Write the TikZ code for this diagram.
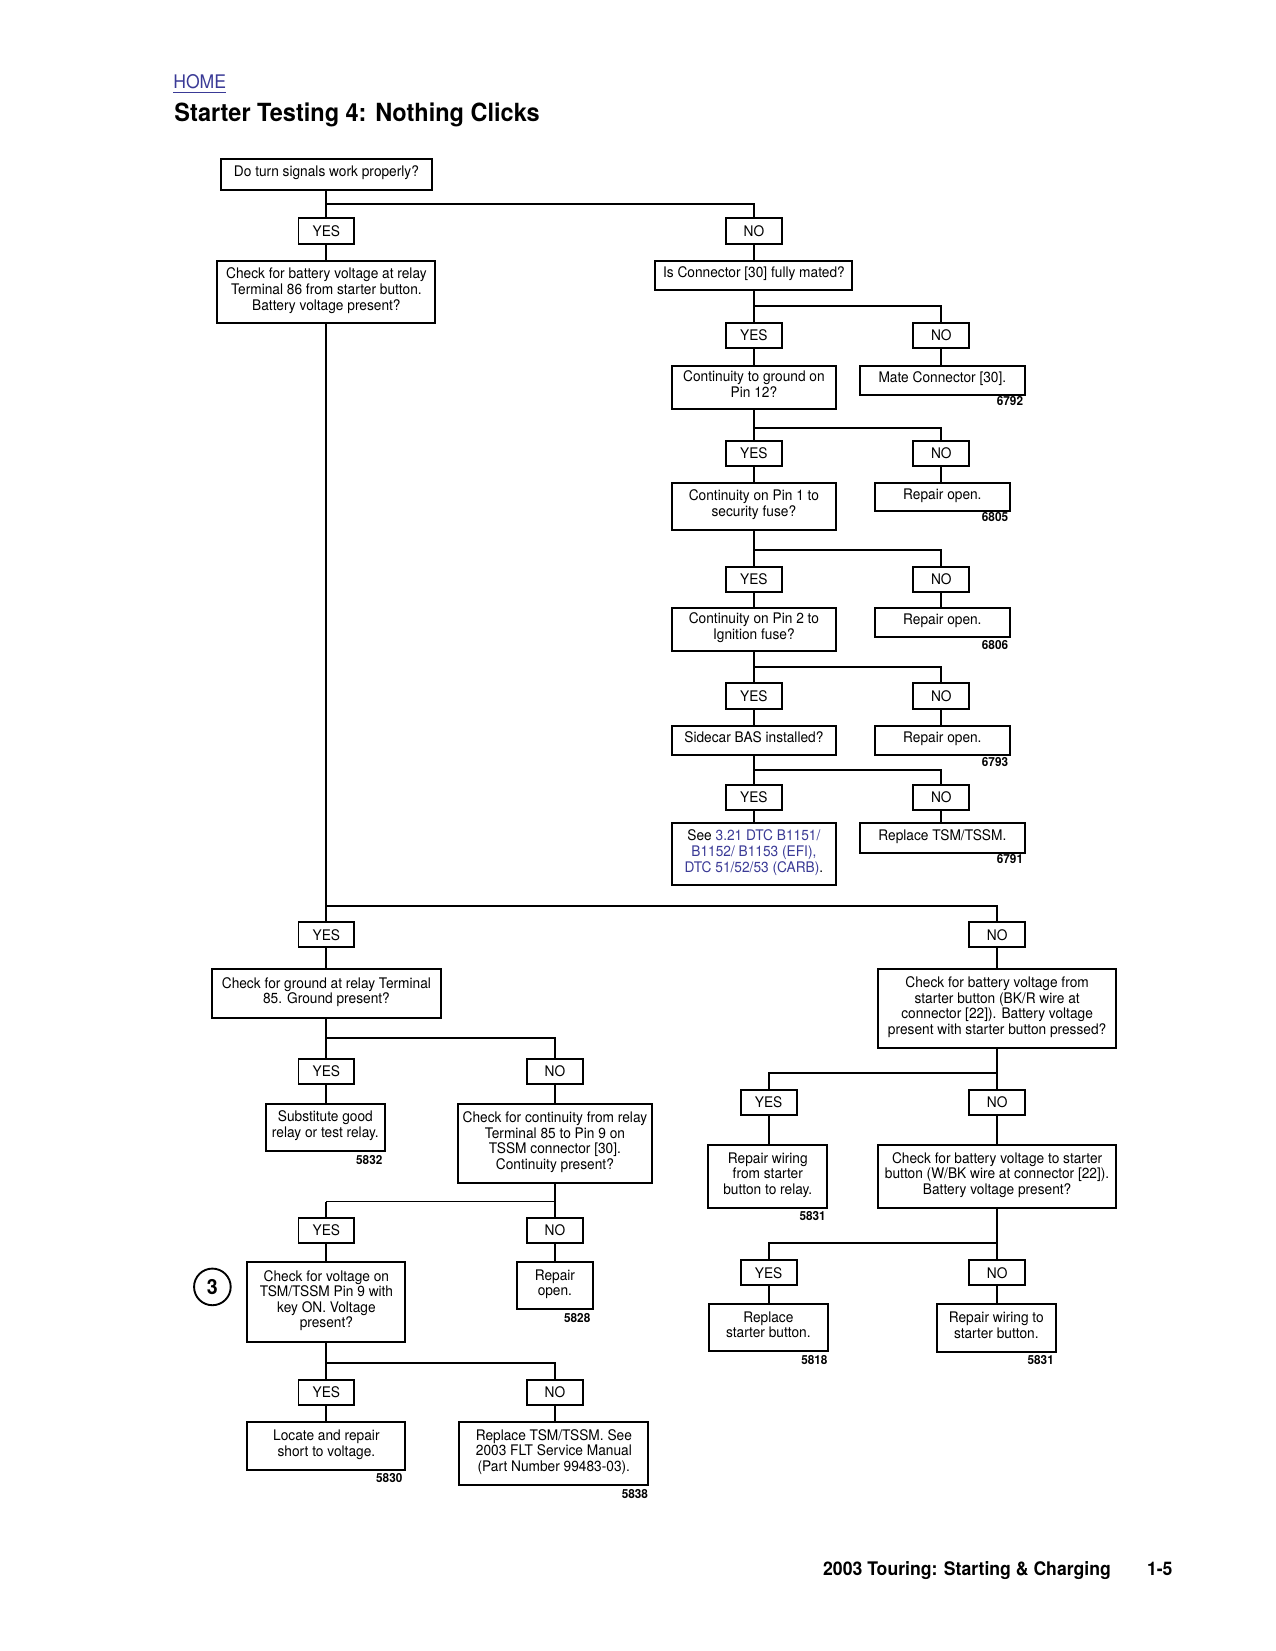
\documentclass[tikz,border=0pt]{standalone}
\usepackage{fontspec}
\setmainfont{TeX Gyre Heros}[FakeStretch=0.94]
\definecolor{linkc}{RGB}{58,58,150}
\def\pxu{0.5054pt}
\newcommand{\bt}[1]{\raisebox{0pt}[\height][\dimexpr\depth+0.8pt\relax]{\begin{tabular}{@{}c@{}}#1\end{tabular}}}
\tikzset{
  bx/.style 2 args={draw, line width=0.95pt, inner sep=0pt, align=center, fill=white,
    font=\fontsize{7}{7.5}\selectfont, minimum width=#1*\pxu, minimum height=#2*\pxu},
  tb/.style 2 args={bx={#1}{#2}},
  yn/.style={bx={53}{24}},
  conn/.style={line width=0.95pt},
  thinconn/.style={line width=0.55pt},
  fig/.style={anchor=base east, inner sep=0pt, font=\fontsize{6}{7}\selectfont\bfseries},
}
\begin{document}
\begin{tikzpicture}[x=0.5054pt, y=-0.5054pt]
\useasboundingbox (0,0) rectangle (1211,1568);

% header and footer
\node[anchor=base west, inner sep=0pt, font=\fontsize{9}{10}\selectfont, text=linkc] (home) at (164.2,84.5) {\underline{HOME}};
\node[anchor=base west, inner sep=0pt, font=\fontsize{12}{13}\selectfont\bfseries] (title) at (165.3,115.6) {Starter Testing 4: Nothing Clicks};
\node[anchor=base west, inner sep=0pt, font=\fontsize{9}{10}\selectfont\bfseries] (foot) at (781.4,1496.7) {2003 Touring: Starting \& Charging};
\node[anchor=base west, inner sep=0pt, font=\fontsize{9}{10}\selectfont\bfseries] (page) at (1089,1496.7) {1-5};

% top part
\node[tb={201}{29}] (B1) at (310,165.5) {\bt{Do turn signals work properly?}};
\node[yn] (YES1) at (310,219.5) {YES};
\node[yn] (NO1) at (716,219.5) {NO};
\node[tb={207}{59}] (B2) at (310,277.5) {\bt{Check for battery voltage at relay\\Terminal 86 from starter button.\\Battery voltage present?}};
\node[tb={187}{28}] (B3) at (716,261.5) {\bt{Is Connector [30] fully mated?}};

\node[yn] (YES2) at (716,318.5) {YES};
\node[yn] (NO2) at (894,318.5) {NO};
\node[tb={156}{41}] (B4) at (716,368) {\bt{Continuity to ground on\\Pin 12?}};
\node[tb={156}{28}] (B5) at (895,361.5) {\bt{Mate Connector [30].}};
\node[fig] (f6792) at (972,384.7) {6792};

\node[yn] (YES3) at (716,430.7) {YES};
\node[yn] (NO3) at (894,430.7) {NO};
\node[tb={156}{45}] (B6) at (716,481) {\bt{Continuity on Pin 1 to\\security fuse?}};
\node[tb={128}{27}] (B7) at (895,472) {\bt{Repair open.}};
\node[fig] (f6805) at (957.8,495.5) {6805};

\node[yn] (YES4) at (716,550.3) {YES};
\node[yn] (NO4) at (894,550.3) {NO};
\node[tb={156}{41}] (B8) at (716,597.8) {\bt{Continuity on Pin 2 to\\Ignition fuse?}};
\node[tb={128}{27.6}] (B9) at (895,591) {\bt{Repair open.}};
\node[fig] (f6806) at (957.8,616.5) {6806};

\node[yn] (YES5) at (716,660.9) {YES};
\node[yn] (NO5) at (894,660.9) {NO};
\node[tb={156}{28}] (B10) at (716,703.2) {\bt{Sidecar BAS installed?}};
\node[tb={128}{28}] (B11) at (895,703.2) {\bt{Repair open.}};
\node[fig] (f6793) at (957.8,728.2) {6793};

\node[yn] (YES6) at (716,757.5) {YES};
\node[yn] (NO6) at (894,757.5) {NO};
\node[tb={156}{58.6}] (B12) at (716,811.3) {\bt{See {\color{linkc}3.21 DTC B1151/}\\{\color{linkc}B1152/ B1153 (EFI),}\\{\color{linkc}DTC 51/52/53 (CARB)}.}};
\node[tb={156}{28}] (B13) at (895,796) {\bt{Replace TSM/TSSM.}};
\node[fig] (f6791) at (972,820) {6791};

% lower left
\node[yn] (YES7) at (310,887.7) {YES};
\node[yn] (NO7) at (947,887.7) {NO};
\node[tb={218}{46.6}] (B14) at (310,943.7) {\bt{Check for ground at relay Terminal\\85. Ground present?}};
\node[yn] (YES8) at (310,1017.6) {YES};
\node[yn] (NO8) at (527,1017.6) {NO};
\node[tb={113.3}{44.4}] (B15) at (309,1070.8) {\bt{Substitute good\\relay or test relay.}};
\node[fig] (f5832) at (363.5,1105.6) {5832};
\node[tb={183.7}{75}] (B16) at (527,1086.2) {\bt{Check for continuity from relay\\Terminal 85 to Pin 9 on\\TSSM connector [30].\\Continuity present?}};
\node[yn] (YES9) at (310,1168.5) {YES};
\node[yn] (NO9) at (527,1168.5) {NO};
\node[circle, draw, line width=0.9pt, minimum size=34.8*\pxu, inner sep=0pt, font=\fontsize{10}{10}\selectfont\bfseries] (c3) at (201.7,1222.2) {3};
\node[tb={150}{76}] (B17) at (310,1236.7) {\bt{Check for voltage on\\TSM/TSSM Pin 9 with\\key ON. Voltage\\present?}};
\node[tb={71.5}{44.6}] (B18) at (527,1221) {\bt{Repair\\open.}};
\node[fig] (f5828) at (561,1256.4) {5828};
\node[yn] (YES10) at (310,1322.2) {YES};
\node[yn] (NO10) at (527,1322.2) {NO};
\node[tb={150}{45.6}] (B19) at (310,1373.5) {\bt{Locate and repair\\short to voltage.}};
\node[fig] (f5830) at (382.5,1408) {5830};
\node[tb={179.5}{59.8}] (B20) at (526,1380.6) {\bt{Replace TSM/TSSM. See\\2003 FLT Service Manual\\(Part Number 99483-03).}};
\node[fig] (f5838) at (615.8,1423.2) {5838};

% lower right
\node[tb={225.4}{75}] (B21) at (947,957.9) {\bt{Check for battery voltage from\\starter button (BK/R wire at\\connector [22]). Battery voltage\\present with starter button pressed?}};
\node[yn] (YES11) at (730,1046.8) {YES};
\node[yn] (NO11) at (947,1046.8) {NO};
\node[tb={112.7}{59.5}] (B22) at (729.2,1117.4) {\bt{Repair wiring\\from starter\\button to relay.}};
\node[fig] (f5831a) at (784.6,1159.5) {5831};
\node[tb={225.4}{59.5}] (B23) at (947,1117.4) {\bt{Check for battery voltage to starter\\button (W/BK wire at connector [22]).\\Battery voltage present?}};
\node[yn] (YES12) at (730,1208.7) {YES};
\node[yn] (NO12) at (947,1208.7) {NO};
\node[tb={113}{44.7}] (B24) at (729.7,1261) {\bt{Replace\\starter button.}};
\node[fig] (f5818) at (786.2,1295.6) {5818};
\node[tb={113}{45.3}] (B25) at (946.2,1261.2) {\bt{Repair wiring to\\starter button.}};
\node[fig] (f5831b) at (1001.2,1295.6) {5831};

% junction coordinates
\coordinate (j1) at (310,194);
\coordinate (j2) at (716,290.3);
\coordinate (j3) at (716,406.8);
\coordinate (j4) at (716,522.4);
\coordinate (j5) at (716,633.2);
\coordinate (j6) at (716,731.4);
\coordinate (jL) at (310,860.3);
\coordinate (j7) at (310,985.6);
\coordinate (j8) at (527,1141.4);
\coordinate (j8b) at (310,1141.4);
\coordinate (j9) at (310,1294.3);
\coordinate (j10) at (947,1018.9);
\coordinate (j11) at (947,1180.3);

% connectors
\draw[conn] (B1.south) -- (YES1.north);
\draw[conn] (j1) -| (NO1.north);
\draw[conn] (YES1.south) -- (B2.north);
\draw[conn] (NO1.south) -- (B3.north);

\draw[conn] (B3.south) -- (YES2.north);
\draw[conn] (j2) -| (NO2.north);
\draw[conn] (YES2.south) -- (B4.north);
\draw[conn] (NO2.south) -- (NO2.south |- B5.north);

\draw[conn] (B4.south) -- (YES3.north);
\draw[conn] (j3) -| (NO3.north);
\draw[conn] (YES3.south) -- (B6.north);
\draw[conn] (NO3.south) -- (NO3.south |- B7.north);

\draw[conn] (B6.south) -- (YES4.north);
\draw[conn] (j4) -| (NO4.north);
\draw[conn] (YES4.south) -- (B8.north);
\draw[conn] (NO4.south) -- (NO4.south |- B9.north);

\draw[conn] (B8.south) -- (YES5.north);
\draw[conn] (j5) -| (NO5.north);
\draw[conn] (YES5.south) -- (B10.north);
\draw[conn] (NO5.south) -- (NO5.south |- B11.north);

\draw[conn] (B10.south) -- (YES6.north);
\draw[conn] (j6) -| (NO6.north);
\draw[conn] (YES6.south) -- (B12.north);
\draw[conn] (NO6.south) -- (NO6.south |- B13.north);

\draw[conn] (B2.south) -- (YES7.north);
\draw[conn] (jL) -| (NO7.north);
\draw[conn] (YES7.south) -- (B14.north);
\draw[conn] (NO7.south) -- (B21.north);

\draw[conn] (B14.south) -- (YES8.north);
\draw[conn] (j7) -| (NO8.north);
\draw[conn] (YES8.south) -- (YES8.south |- B15.north);
\draw[conn] (NO8.south) -- (B16.north);

\draw[conn] (B16.south) -- (NO9.north);
\draw[thinconn] (j8) -- (j8b);
\draw[conn] (j8b) -- (YES9.north);
\draw[conn] (YES9.south) -- (B17.north);
\draw[conn] (NO9.south) -- (B18.north);

\draw[conn] (B17.south) -- (YES10.north);
\draw[conn] (j9) -| (NO10.north);
\draw[conn] (YES10.south) -- (B19.north);
\draw[conn] (NO10.south) -- (NO10.south |- B20.north);

\draw[conn] (B21.south) -- (NO11.north);
\draw[conn] (j10) -| (YES11.north);
\draw[conn] (YES11.south) -- (YES11.south |- B22.north);
\draw[conn] (NO11.south) -- (B23.north);

\draw[conn] (B23.south) -- (NO12.north);
\draw[conn] (j11) -| (YES12.north);
\draw[conn] (YES12.south) -- (YES12.south |- B24.north);
\draw[conn] (NO12.south) -- (NO12.south |- B25.north);
\end{tikzpicture}
\end{document}
